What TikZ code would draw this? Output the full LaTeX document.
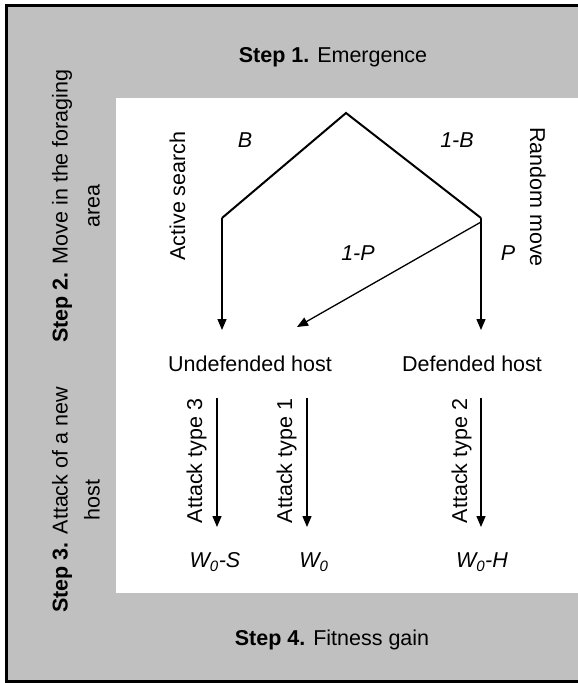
\documentclass[tikz,border=0pt]{standalone}
\usepackage{fontspec}
\setmainfont{Liberation Sans}
\usetikzlibrary{arrows.meta}
\definecolor{panelgray}{HTML}{C0C0C0}
\begin{document}
\begin{tikzpicture}[x=1pt,y=-1pt,
  lbl/.style={font=\fontsize{21.5}{25}\selectfont, inner sep=0pt},
  steplbl/.style={font=\fontsize{21.5}{32}\selectfont, inner sep=0pt, rotate=90, align=center},
  prob/.style={font=\fontsize{21.5}{25}\selectfont\itshape, inner sep=0pt},
  branch/.style={line width=2pt, line join=miter},
  arr/.style={line width=1.3pt, -{Triangle[length=11pt,width=9pt]}},
]
\useasboundingbox (0,0) rectangle (578,683);
\clip (0,0) rectangle (578,683);
\draw[fill=panelgray, line width=3pt] (6.5,5.5) rectangle (600,681);
\fill[white] (116,98) rectangle (600,593);

% step labels
\node[lbl] (s1) at (333,57) {\textbf{Step 1.} Emergence};
\node[steplbl] (s2) at (76,206) {\textbf{Step 2.} Move in the foraging\\area};
\node[steplbl] (s3) at (76,500) {\textbf{Step 3.} Attack of a new\\host};
\node[lbl] (s4) at (332,640) {\textbf{Step 4.} Fitness gain};

% tree coordinates
\coordinate (apex) at (346,113);
\coordinate (lb) at (222,218);
\coordinate (rb) at (481,218);
\coordinate (rbs) at (481,222);
\coordinate (le) at (222,330);
\coordinate (re) at (481,330);
\coordinate (de) at (297,327);

\draw[branch] (lb) -- (apex) -- (rb);
\draw[arr] (lb) -- (le);
\draw[arr] (rb) -- (re);
\draw[arr] (rbs) -- (de);

\node[prob] (pB) at (245,140) {B};
\node[prob] (p1B) at (457,140) {1-B};
\node[prob] (p1P) at (358,253) {1-P};
\node[prob] (pP) at (508,253) {P};
\node[lbl, rotate=90, anchor=base] (as) at (185,196) {Active search};
\node[lbl, rotate=-90, anchor=base] (rm) at (530,197) {Random move};

% hosts
\node[lbl] (uh) at (250,364) {Undefended host};
\node[lbl] (dh) at (472,364) {Defended host};

% attacks
\coordinate (a3s) at (217,398);
\coordinate (a3e) at (217,527);
\coordinate (a1s) at (307,398);
\coordinate (a1e) at (307,527);
\coordinate (a2s) at (481,398);
\coordinate (a2e) at (481,527);
\draw[arr] (a3s) -- (a3e);
\draw[arr] (a1s) -- (a1e);
\draw[arr] (a2s) -- (a2e);
\node[lbl, rotate=90, anchor=base] (at3) at (202,461) {Attack type 3};
\node[lbl, rotate=90, anchor=base] (at1) at (292,461) {Attack type 1};
\node[lbl, rotate=90, anchor=base] (at2) at (467,461) {Attack type 2};

% fitness
\node[prob] (ws) at (215,562) {W\textsubscript{0}-S};
\node[prob] (w0) at (314,562) {W\textsubscript{0}};
\node[prob] (wh) at (482,562) {W\textsubscript{0}-H};
\end{tikzpicture}
\end{document}
